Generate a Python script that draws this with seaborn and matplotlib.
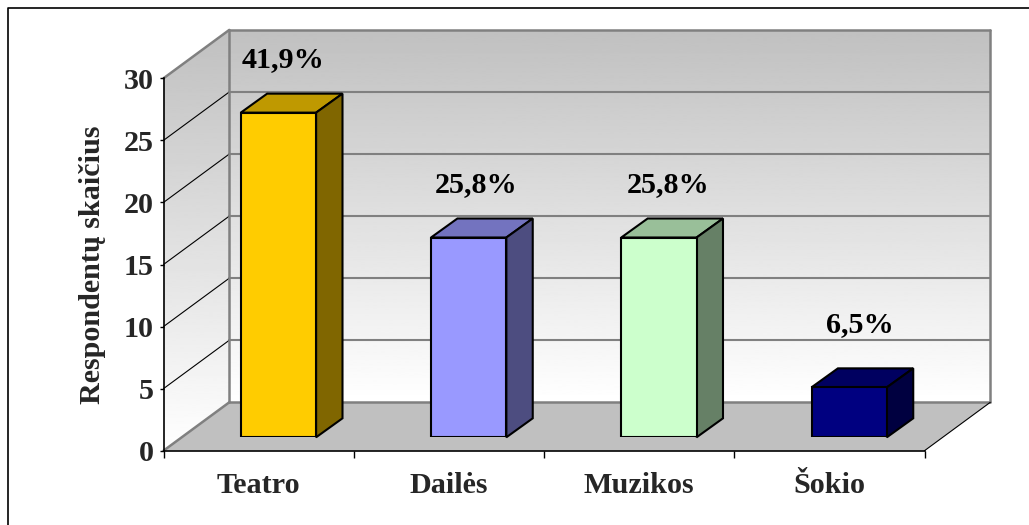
import numpy as np
import pandas as pd
import seaborn as sns
import matplotlib.pyplot as plt
from matplotlib.patches import Polygon

categories = ['Teatro', 'Dailės', 'Muzikos', 'Šokio']
respondents = [26, 16, 16, 4]
percent_labels = ['41,9%', '25,8%', '25,8%', '6,5%']
y_ticks = [0, 5, 10, 15, 20, 25, 30]

W, H = 1029, 525
FS = 21.7
front_colors = ['#FFCC00', '#9999FF', '#CCFFCC', '#000080']
top_colors = ['#BF9900', '#7373BF', '#99BF99', '#000060']
side_colors = ['#806600', '#4D4D80', '#668066', '#000040']

sns.set_theme(style='white')
plt.rcParams['font.family'] = ['Liberation Serif', 'DejaVu Serif']
plt.rcParams['font.weight'] = 'bold'

fig = plt.figure(figsize=(W / 100, H / 100), dpi=100, facecolor='white')

# everything decorative goes on a full figure axes in pixel coordinates
bg = fig.add_axes([0, 0, 1, 1], zorder=0)
bg.set_xlim(0, W)
bg.set_ylim(H, 0)
bg.axis('off')


def box(left, top, right, bottom):
    return [left / W, 1 - bottom / H, (right - left) / W, (bottom - top) / H]


# front plane of the 3d box, holds the ticks
left, right, y0, y30 = 163.5, 924.5, 450.7, 78.3
ax = fig.add_axes(box(left, y30, right, y0), zorder=1)
ax.patch.set_alpha(0)
ax.set_xlim(-0.5, 3.5)
ax.set_ylim(0, 30)

# bars stand a bit deeper in the box, so they get their own shifted axes
bar_dx, bar_dy = 19.8, -13.4
bar_ax = fig.add_axes(box(left + bar_dx, 437.3 - 374.6, right + bar_dx, 437.3), zorder=2)
df = pd.DataFrame({'category': categories, 'respondents': respondents})
sns.barplot(data=df, x='category', y='respondents', hue='category', palette=front_colors,
            legend=False, width=0.396, ax=bar_ax, edgecolor='black', linewidth=1.5,
            saturation=1)
bar_ax.set_xlim(-0.5, 3.5)
bar_ax.set_ylim(0, 30)
bar_ax.axis('off')
fig.canvas.draw()


def px(x, y, depth=(0, 0)):
    dx, dy = ax.transData.transform((x, y))
    return (dx + depth[0], H - dy + depth[1])


depth = (65.8, -48.4)
a, b = -0.5, 3.5


def gradient_poly(points, top_y, bottom_y):
    grad = np.linspace(0, 1, 256).reshape(-1, 1)
    im = bg.imshow(grad, cmap=plt.cm.gray, vmin=-3.05, vmax=1, aspect='auto', zorder=1,
                   extent=(0, W, bottom_y, top_y), interpolation='bilinear')
    im.set_clip_path(Polygon(points, transform=bg.transData))


back = [px(a, 30, depth), px(b, 30, depth), px(b, 0, depth), px(a, 0, depth)]
side = [px(a, 30), px(a, 30, depth), px(a, 0, depth), px(a, 0)]
floor = [px(a, 0), px(a, 0, depth), px(b, 0, depth), px(b, 0)]
gradient_poly(back, back[0][1], back[2][1])
gradient_poly(side, back[0][1], px(a, 0)[1])
bg.set_xlim(0, W)
bg.set_ylim(H, 0)
bg.add_patch(Polygon(floor, facecolor='#C0C0C0', edgecolor='none', zorder=2))

# gridlines on the back wall and across the side wall
for t in y_ticks[1:-1]:
    p, q, r = px(a, t), px(a, t, depth), px(b, t, depth)
    bg.plot([q[0], r[0]], [q[1], r[1]], color='#808080', lw=1.5, zorder=3)
    bg.plot([p[0], q[0]], [p[1], q[1]], color='black', lw=0.8, zorder=3)

# box outline
for p, q in [(back[0], back[1]), (back[1], back[2]), (back[0], back[3]), (back[3], back[2]),
             (side[0], side[1]), (floor[0], floor[1])]:
    bg.plot([p[0], q[0]], [p[1], q[1]], color='#808080', lw=1.8, zorder=4)
p, q = px(b, 0), px(b, 0, depth)
bg.plot([p[0], q[0]], [p[1], q[1]], color='black', lw=0.8, zorder=4)

# outer frame of the chart, only top and left are inside the picture
bg.plot([W + 5, 7.5, 7.5], [7.5, 7.5, H + 5], color='black', lw=1.2, zorder=1)

# tops and sides of the bars, worked out from the seaborn bars
bar_depth = (26.4, -19)
bar_ax_trans = bar_ax.transData
for patch, top_c, side_c in zip(bar_ax.patches, top_colors, side_colors):
    x0, x1 = patch.get_x(), patch.get_x() + patch.get_width()
    h = patch.get_height()
    (l, bt) = bar_ax_trans.transform((x0, 0))
    (r, tp) = bar_ax_trans.transform((x1, h))
    bt, tp = H - bt, H - tp
    dx, dy = bar_depth
    bg.add_patch(Polygon([(l, tp), (l + dx, tp + dy), (r + dx, tp + dy), (r, tp)],
                         facecolor=top_c, edgecolor='black', lw=1.5, zorder=5))
    bg.add_patch(Polygon([(r, tp), (r + dx, tp + dy), (r + dx, bt + dy), (r, bt)],
                         facecolor=side_c, edgecolor='black', lw=1.5, zorder=5))

# percent labels were placed by hand in the original
label_nudge_x = [4.5, 7, 9, 11]
label_nudge_y = [45.7, 45, 45, 55.7]
for patch, text, nx, ny in zip(bar_ax.patches, percent_labels, label_nudge_x, label_nudge_y):
    xc = patch.get_x() + patch.get_width() / 2
    bar_ax.annotate(text, (xc, patch.get_height()), xytext=(nx * 0.72, ny * 0.72),
                    textcoords='offset points', ha='center', va='baseline',
                    fontsize=FS, fontweight='bold', color='black', annotation_clip=False)

# axis styling
sns.despine(ax=ax, top=True, right=True)
for s in ['left', 'bottom']:
    ax.spines[s].set_color('black')
    ax.spines[s].set_linewidth(1.2)
ax.set_yticks(y_ticks)
ax.set_yticklabels(y_ticks, fontsize=FS, fontweight='bold')
ax.tick_params(axis='y', left=True, length=3, width=1, color='black', pad=4)
ax.set_xticks(np.arange(-0.5, 4, 1))
ax.set_xticklabels([])
ax.tick_params(axis='x', which='major', bottom=True, length=5, width=1, color='black')
ax.set_xticks(range(len(categories)), categories, minor=True, fontsize=FS, fontweight='bold')
ax.tick_params(axis='x', which='minor', bottom=False, length=0, pad=15)
ax.set_ylabel('Respondentų skaičius', fontsize=FS, fontweight='bold', labelpad=13)

fig.savefig('out.png', dpi=100)
